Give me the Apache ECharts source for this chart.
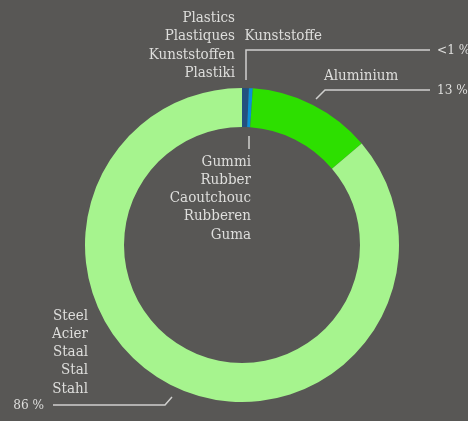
<!DOCTYPE html>
<html>
<head>
<meta charset="utf-8">
<script src="https://cdn.jsdelivr.net/npm/echarts@6/dist/echarts.min.js"></script>
<style>
html, body { margin: 0; padding: 0; background: #585755; }
#chart { width: 468px; height: 421px; }
</style>
</head>
<body>
<div id="chart"></div>
<script>
// materials, clockwise from 12 o'clock
const materials = ['Plastics', 'Rubber', 'Aluminium', 'Steel'];
const shares = [0.7, 0.4, 12.7, 86.2];
const shareLabels = ['<1 %', '', '13 %', '86 %'];
const colours = ['#23507f', '#0a90d8', '#2ddf00', '#a6f48e'];
const nameLines = [
    ['Plastics', 'Plastiques', 'Kunststoffen', 'Plastiki'],
    ['Gummi', 'Rubber', 'Caoutchouc', 'Rubberen', 'Guma'],
    ['Aluminium'],
    ['Steel', 'Acier', 'Staal', 'Stal', 'Stahl']
];
const germanPlastics = 'Kunststoffe';

const FONT = '"DejaVu Serif Condensed", "Liberation Serif", serif';
const TEXT = '#dededc';
const LINE = '#d0d0ce';

let myChart = echarts.init(document.getElementById('chart'));

function plasticsRich(lines) {
    return lines.map((t, i) => '{a|' + t + '}{b|' + (i === 1 ? germanPlastics : ' ') + '}').join('\n');
}

// where the names and the percentages sit
const nameLayout = [
    { x: 322, y: 9, align: 'right', verticalAlign: 'top' },
    { x: 251, y: 152.5, align: 'right', verticalAlign: 'top',
      labelLinePoints: [[249, 136], [249, 142], [249, 149]] },
    { x: 324, y: 76, align: 'left', verticalAlign: 'middle' },
    { x: 88, y: 306.5, align: 'right', verticalAlign: 'top' }
];
const shareLayout = [
    { x: 437, y: 50, align: 'left', verticalAlign: 'middle',
      labelLinePoints: [[246, 80], [246, 50], [430, 50]] },
    {},
    { x: 437, y: 90, align: 'left', verticalAlign: 'middle',
      labelLinePoints: [[316, 99], [325, 90], [430, 90]] },
    { x: 44, y: 405, align: 'right', verticalAlign: 'middle',
      labelLinePoints: [[172, 397], [165, 405], [53, 405]] }
];

let nameData = materials.map((m, i) => ({
    name: m,
    value: shares[i],
    itemStyle: { color: colours[i] },
    label: {
        formatter: i === 0 ? plasticsRich(nameLines[i]) : nameLines[i].join('\n')
    },
    labelLine: { show: i === 1 }
}));

let shareData = materials.map((m, i) => ({
    name: m,
    value: shares[i],
    itemStyle: { color: 'rgba(0,0,0,0)' },
    label: { show: shareLabels[i] !== '', formatter: shareLabels[i] },
    labelLine: { show: shareLabels[i] !== '' }
}));

const common = {
    type: 'pie',
    center: [242, 245],
    radius: [118, 157],
    startAngle: 90,
    clockwise: true,
    silent: true,
    avoidLabelOverlap: false,
    animation: false,
    emphasis: { disabled: true }
};

let option = {
    backgroundColor: '#585755',
    series: [
        Object.assign({}, common, {
            name: 'names',
            data: nameData,
            label: {
                position: 'outside',
                color: TEXT,
                fontFamily: FONT,
                fontSize: 15,
                lineHeight: 18.3,
                rich: {
                    a: { width: 100, align: 'right', color: TEXT, fontFamily: FONT, fontSize: 15, lineHeight: 18.3 },
                    b: { width: 87, align: 'right', color: TEXT, fontFamily: FONT, fontSize: 15, lineHeight: 18.3 }
                }
            },
            labelLine: { lineStyle: { color: LINE, width: 1.5 } },
            labelLayout: p => nameLayout[p.dataIndex]
        }),
        Object.assign({}, common, {
            name: 'shares',
            data: shareData,
            label: {
                position: 'outside',
                color: TEXT,
                fontFamily: FONT,
                fontSize: 13.5
            },
            labelLine: { lineStyle: { color: LINE, width: 1.5 } },
            labelLayout: p => shareLayout[p.dataIndex]
        })
    ]
};
myChart.setOption(option);
</script>
</body>
</html>
